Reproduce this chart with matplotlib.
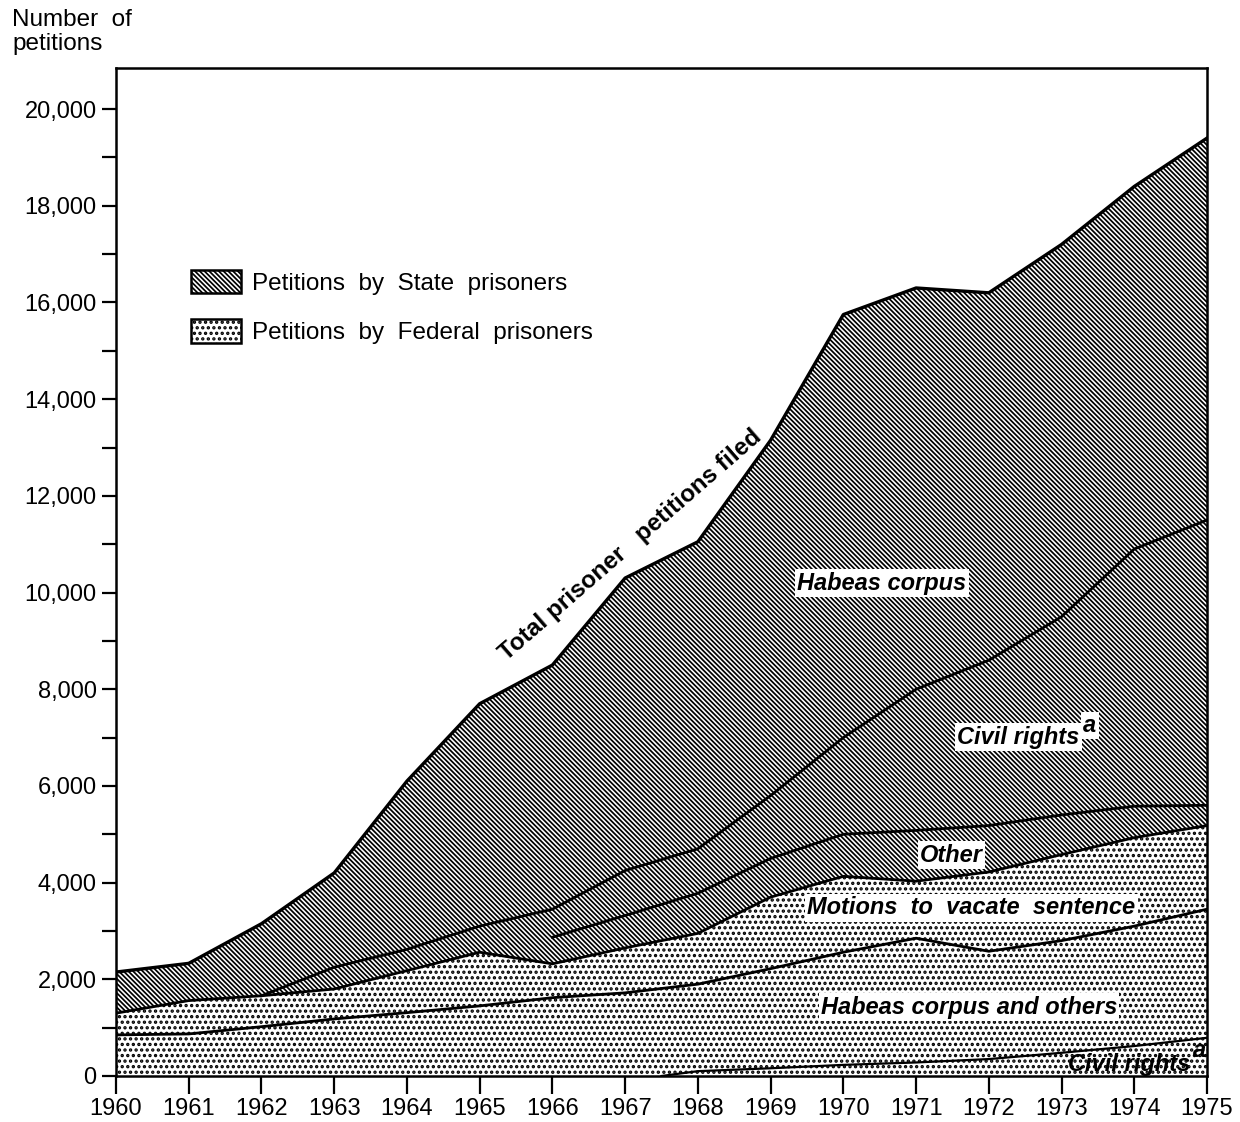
import matplotlib
matplotlib.use('Agg')
import matplotlib.pyplot as plt
from matplotlib.patches import Patch

plt.rcParams['font.family'] = ['Liberation Sans', 'DejaVu Sans']
plt.rcParams['hatch.linewidth'] = 1.25

# ---- data (cumulative boundary levels) ----
years = [1960, 1961, 1962, 1963, 1964, 1965, 1966, 1967,
         1968, 1969, 1970, 1971, 1972, 1973, 1974, 1975]
total_filed = [2150, 2330, 3150, 4200, 6100, 7700, 8500, 10300,
               11050, 13150, 15750, 16300, 16200, 17200, 18400, 19400]
federal_total = [1300, 1560, 1660, 1800, 2180, 2560, 2320, 2650,
                 2950, 3700, 4130, 4030, 4220, 4580, 4930, 5180]
federal_habeas_top = [850, 870, 1020, 1180, 1310, 1450, 1620, 1720,
                      1900, 2220, 2560, 2850, 2580, 2800, 3100, 3450]
fed_civil_years = [1967.5, 1968, 1969, 1970, 1971, 1972, 1973, 1974, 1975]
fed_civil_rights = [0, 100, 160, 230, 280, 350, 480, 620, 790]
state_civil_years = [1962, 1963, 1964, 1965, 1966, 1967, 1968,
                     1969, 1970, 1971, 1972, 1973, 1974, 1975]
state_civil_top = [1660, 2250, 2620, 3100, 3450, 4250, 4700,
                   5800, 7000, 8000, 8600, 9500, 10900, 11500]
state_other_years = [1966, 1967, 1968, 1969, 1970, 1971, 1972, 1973, 1974, 1975]
state_other_top = [2870, 3320, 3780, 4500, 5000, 5080, 5180, 5400, 5580, 5600]

ytick_values = list(range(0, 20001, 2000))
ytick_labels = ['0', '2,000', '4,000', '6,000', '8,000', '10,000',
                '12,000', '14,000', '16,000', '18,000', '20,000']
legend_labels = ['Petitions  by  State  prisoners', 'Petitions  by  Federal  prisoners']

STATE_HATCH = '\\' * 7
FED_HATCH = '...'
FED_HATCH_LW = 1.6

fig = plt.figure(figsize=(12.4, 11.22), dpi=100)
ax = fig.add_axes([116/1240, 1-1076/1122, (1207-116)/1240, (1076-68)/1122])

ax.fill_between(years, federal_total, total_filed, facecolor='white',
                edgecolor='black', hatch=STATE_HATCH, linewidth=0)
with plt.rc_context({'hatch.linewidth': FED_HATCH_LW}):
    fed_fill = ax.fill_between(years, 0, federal_total, facecolor='white',
                               edgecolor='black', hatch=FED_HATCH, linewidth=0)
if hasattr(fed_fill, 'set_hatch_linewidth'):
    fed_fill.set_hatch_linewidth(FED_HATCH_LW)

ax.plot(years, total_filed, color='black', lw=2.4, solid_joinstyle='round')
ax.plot(years, federal_total, color='black', lw=2.0, solid_joinstyle='round')
ax.plot(years, federal_habeas_top, color='black', lw=2.0, solid_joinstyle='round')
ax.plot(fed_civil_years, fed_civil_rights, color='black', lw=1.6)
ax.plot(state_civil_years, state_civil_top, color='black', lw=2.0, solid_joinstyle='round')
ax.plot(state_other_years, state_other_top, color='black', lw=2.0, solid_joinstyle='round')

ax.set_xlim(1960, 1975)
ax.set_ylim(0, 20850)

ax.set_xticks(years)
ax.set_xticklabels([str(y) for y in years], fontsize=17)
ax.set_yticks(ytick_values)
ax.set_yticklabels(ytick_labels, fontsize=17)
ax.set_yticks(list(range(1000, 20000, 2000)), minor=True)
ax.tick_params(axis='x', direction='out', length=13, width=1.6, pad=3)
ax.tick_params(axis='y', which='both', direction='out', length=10, width=1.6, pad=4)
for s in ax.spines.values():
    s.set_linewidth(1.8)

fig.text(12/1240, 1-9/1122, 'Number  of\npetitions', ha='left', va='top',
         fontsize=17.5, linespacing=1.1)

box = dict(facecolor='white', edgecolor='none', pad=1.5)
lab = dict(fontsize=17, fontweight='bold', fontstyle='italic')

ax.text(1970.53, 10196, 'Habeas corpus', ha='center', va='center', bbox=box, **lab)
ax.text(1973.25, 7011, 'Civil rights', ha='right', va='center', bbox=box, **lab)
ax.text(1973.30, 7250, 'a', ha='left', va='center', bbox=box, **lab)
ax.text(1971.49, 4571, 'Other', ha='center', va='center', bbox=box, **lab)
ax.text(1971.76, 3475, 'Motions  to  vacate  sentence', ha='center', va='center', bbox=box, **lab)
ax.text(1971.73, 1427, 'Habeas corpus and others', ha='center', va='center', bbox=box, **lab)
ax.text(1974.77, 240, 'Civil rights', ha='right', va='center', **lab)
ax.text(1974.80, 520, 'a', ha='left', va='center', **lab)
ax.text(1967.07, 10980, 'Total prisoner   petitions filed', ha='center', va='center',
        rotation=41, rotation_mode='anchor', fontsize=17.5, fontweight='bold')

h_state = Patch(facecolor='white', edgecolor='black', hatch=STATE_HATCH, lw=1.8)
with plt.rc_context({'hatch.linewidth': FED_HATCH_LW}):
    h_fed = Patch(facecolor='white', edgecolor='black', hatch=FED_HATCH, lw=1.8)
if hasattr(h_fed, 'set_hatch_linewidth'):
    h_fed.set_hatch_linewidth(FED_HATCH_LW)
leg = fig.legend([h_state, h_fed], legend_labels, loc='upper left',
                 bbox_to_anchor=(191/1240, 1-270/1122), frameon=False,
                 fontsize=17.5, handlelength=2.05, handleheight=1.1,
                 handletextpad=0.45, labelspacing=1.0, borderpad=0, borderaxespad=0)
for p in leg.get_patches()[1:]:
    if hasattr(p, 'set_hatch_linewidth'):
        p.set_hatch_linewidth(FED_HATCH_LW)

fig.savefig('out.png', dpi=100)
